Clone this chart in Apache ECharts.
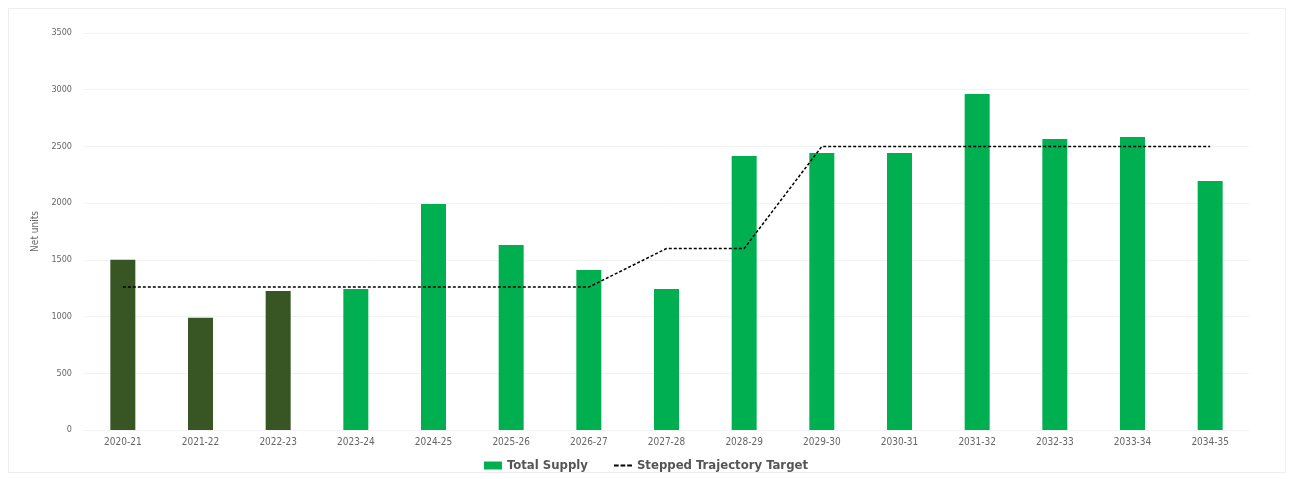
<!DOCTYPE html>
<html>
<head>
<meta charset="utf-8">
<script src="https://cdn.jsdelivr.net/npm/echarts@6/dist/echarts.min.js"></script>
<style>
  html, body { margin: 0; padding: 0; background: #fff; }
  #frame { position: absolute; left: 8px; top: 8px; width: 1276px; height: 463px; border: 1px solid #eeeeee; }
  #main { width: 1292px; height: 479px; }
</style>
</head>
<body>
<div id="frame"></div>
<div id="main"></div>
<script>
  var years = ['2020-21','2021-22','2022-23','2023-24','2024-25','2025-26','2026-27','2027-28','2028-29','2029-30','2030-31','2031-32','2032-33','2033-34','2034-35'];
  var totalSupply = [1500, 990, 1225, 1243, 1993, 1631, 1410, 1243, 2416, 2443, 2443, 2963, 2566, 2584, 2196];
  var target = [1260, 1260, 1260, 1260, 1260, 1260, 1260, 1600, 1600, 2500, 2500, 2500, 2500, 2500, 2500];
  var pastCount = 3; // delivered years in dark green

  var font = '"Liberation Sans Narrow", "DejaVu Sans Condensed", sans-serif';

  var chart = echarts.init(document.getElementById('main'));
  chart.setOption({
    animation: false,
    grid: { left: 84, right: 43, top: 33, bottom: 49 },
    legend: {
      bottom: 2,
      itemGap: 26,
      itemWidth: 18,
      itemHeight: 8,
      textStyle: { fontFamily: font, fontSize: 13, fontWeight: 'bold', color: '#555' },
      data: [
        { name: 'Total Supply', icon: 'rect' },
        { name: 'Stepped Trajectory Target', icon: 'path://M0,4h5v2h-5z M7,4h5v2h-5z M14,4h5v2h-5z', itemStyle: { color: '#000' } }
      ]
    },
    xAxis: {
      type: 'category',
      data: years,
      axisLine: { show: false },
      axisTick: { show: false },
      axisLabel: { fontFamily: font, fontSize: 10, color: '#666', margin: 7 }
    },
    yAxis: {
      type: 'value',
      min: 0,
      max: 3500,
      interval: 500,
      name: 'Net units',
      nameLocation: 'middle',
      nameGap: 38,
      nameTextStyle: { fontFamily: font, fontSize: 10, color: '#666' },
      axisLabel: { fontFamily: font, fontSize: 9, color: '#666', margin: 12, formatter: function (v) { return String(v); } },
      splitLine: { lineStyle: { color: '#f2f2f2' } }
    },
    series: [
      {
        name: 'Total Supply',
        type: 'bar',
        barWidth: 25,
        itemStyle: { color: '#00B050' },
        data: totalSupply.map(function (v, i) {
          return i < pastCount ? { value: v, itemStyle: { color: '#375623' } } : v;
        })
      },
      {
        name: 'Stepped Trajectory Target',
        type: 'line',
        data: target,
        symbol: 'none',
        itemStyle: { color: '#000' },
        lineStyle: { color: '#000', width: 1.5, type: [3, 2] }
      }
    ]
  });
</script>
</body>
</html>
